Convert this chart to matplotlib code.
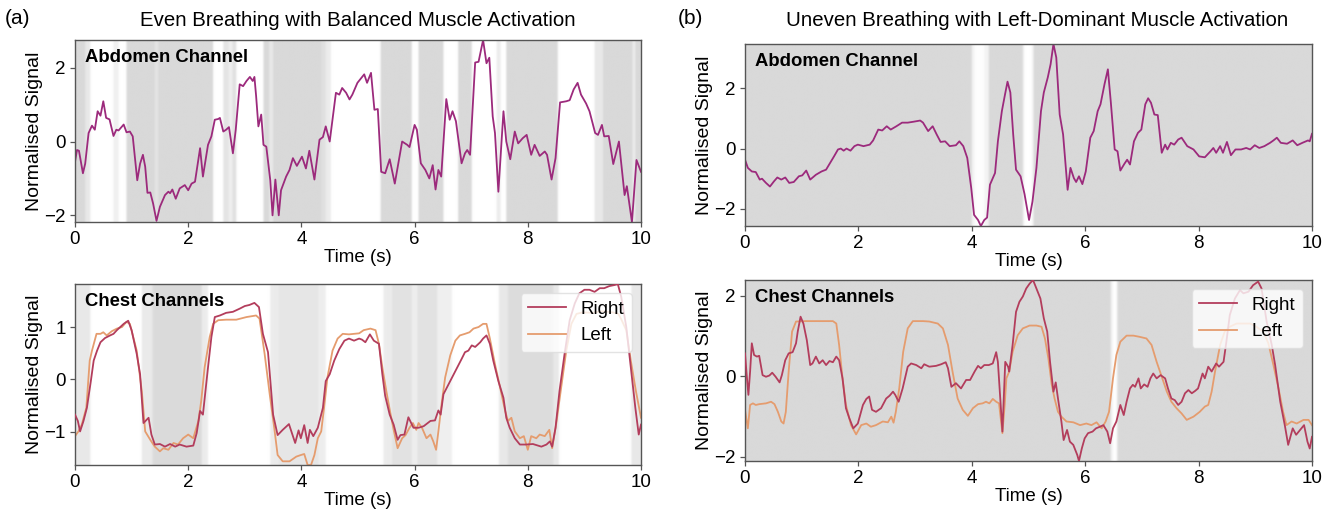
import numpy as np
import matplotlib
matplotlib.use("Agg")
import matplotlib.pyplot as plt
from matplotlib.colors import LinearSegmentedColormap

plt.rcParams['font.family'] = ['Liberation Sans', 'DejaVu Sans']

# ---------------- data ----------------
# (a) abdomen channel
t_abd_a = [0,0.035,0.07,0.14,0.18,0.24,0.30,0.35,0.40,0.45,
           0.50,0.55,0.61,0.68,0.73,0.77,0.86,0.91,0.97,1.02,
           1.10,1.15,1.20,1.24,1.28,1.33,1.38,1.44,1.50,1.59,
           1.65,1.68,1.72,1.78,1.85,1.94,2.0,2.06,2.12,2.21,
           2.26,2.35,2.41,2.47,2.53,2.56,2.62,2.67,2.72,2.79,
           2.84,2.91,2.97,3.03,3.09,3.14,3.17,3.2,3.24,3.29,
           3.33,3.38,3.45,3.49,3.54,3.6,3.64,3.73,3.79,3.85,
           3.92,4.01,4.08,4.14,4.23,4.32,4.38,4.43,4.5,4.55,
           4.61,4.67,4.72,4.79,4.85,4.9,4.99,
           5.11,5.16,5.23,5.29,5.35,5.41,5.48,5.56,5.65,5.78,
           5.87,5.91,6.0,6.04,6.11,6.19,6.26,6.32,6.37,6.42,
           6.47,6.56,6.62,6.67,6.73,6.83,6.89,6.93,6.98,7.07,
           7.13,7.21,7.27,7.32,7.38,7.42,7.48,7.57,7.62,7.69,
           7.77,7.83,7.91,7.98,8.06,8.12,8.21,8.30,8.34,8.42,
           8.49,8.57,8.68,8.74,8.81,8.88,8.94,9.03,9.09,9.19,
           9.24,9.31,9.35,9.43,9.51,9.61,9.71,9.75,9.84,9.92,
           10.0]
v_abd_a = [-0.55,-0.23,-0.25,-0.86,-0.6,0.23,0.43,0.32,0.82,0.7,
           1.09,0.64,0.6,0.15,0.32,0.3,0.46,0.25,0.27,0.14,
           -1.05,-0.6,-0.36,-0.68,-1.39,-1.38,-1.68,-2.15,-1.77,-1.45,
           -1.36,-1.4,-1.3,-1.55,-1.27,-1.18,-1.32,-1.14,-1.09,-0.18,
           -0.95,-0.09,0.14,0.59,0.61,0.64,0.27,0.32,0.39,-0.32,
           0.32,1.55,1.5,1.64,1.75,1.64,1.75,1.23,0.41,0.73,
           -0.09,-0.14,-1.05,-2.0,-1.03,-2.0,-1.32,-0.95,-0.77,-0.45,
           -0.66,-0.41,-0.73,-0.25,-1.03,0.05,0.12,0.41,0.0,0.59,
           1.32,1.27,1.45,1.32,1.14,1.27,1.59,
           1.82,1.59,1.86,0.86,0.88,-0.82,-0.86,-0.48,-1.14,0.0,
           -0.09,-0.15,0.45,0.32,-0.59,-0.77,-1.0,-0.64,-1.3,-0.77,
           -0.95,1.15,0.59,0.82,0.55,-0.59,-0.32,-0.23,-0.36,2.14,
           2.16,2.75,2.12,2.27,0.68,0.23,-1.36,0.82,0.0,-0.48,
           0.27,-0.05,0.09,0.18,-0.36,-0.09,-0.39,-0.27,-0.36,-1.03,
           -0.45,1.06,1.09,1.12,1.41,1.59,1.27,1.03,0.82,0.23,
           0.18,0.45,0.14,0.15,-0.61,0.0,-1.45,-1.21,-2.18,-0.5,
           -0.82]

# (a) chest channels
t_right_a = [0,0.05,0.09,0.15,0.21,0.28,0.33,0.39,0.45,0.53,
             0.62,0.68,0.74,0.80,0.86,0.94,1.0,1.09,1.15,1.21,
             1.30,1.35,1.41,1.50,1.59,1.68,1.77,1.85,1.97,2.09,
             2.15,2.21,2.26,2.35,2.41,2.47,2.56,2.67,2.79,2.91,
             3.0,3.08,3.17,3.25,3.32,3.41,3.50,3.58,3.67,3.78,
             3.85,3.89,3.95,3.99,4.05,4.11,4.15,4.21,4.29,4.38,
             4.43,4.5,4.58,4.67,4.76,4.84,4.93,5.02,
             5.07,5.13,5.21,5.28,5.37,5.43,5.48,5.56,5.63,5.70,
             5.75,5.82,5.89,5.98,6.07,6.16,6.28,6.36,6.42,6.46,
             6.51,6.63,6.74,6.83,6.89,6.95,7.01,7.07,7.16,7.21,
             7.27,7.33,7.39,7.48,7.57,7.62,7.68,7.77,7.86,7.97,
             8.09,8.24,8.33,8.39,8.43,8.49,8.56,8.65,8.74,8.83,
             8.91,9.0,9.09,9.18,9.27,9.35,9.44,9.53,9.59,9.65,
             9.74,9.82,9.9,9.96,10.0]
v_right_a = [-0.67,-0.79,-0.99,-0.79,-0.54,-0.03,0.36,0.55,0.71,0.79,
             0.84,0.87,0.94,1.0,1.06,1.12,0.94,0.49,0.1,-0.83,
             -0.73,-1.05,-1.24,-1.23,-1.28,-1.23,-1.28,-1.24,-1.28,-1.26,
             -1.02,-0.6,-0.67,0.23,0.81,1.19,1.22,1.27,1.29,1.35,
             1.4,1.42,1.46,1.38,0.87,0.52,-0.67,-1.06,-0.96,-0.85,
             -1.08,-1.21,-0.97,-1.12,-0.87,-1.21,-0.96,-1.08,-0.92,-0.54,
             -0.03,0.10,0.36,0.58,0.74,0.78,0.74,0.78,
             0.76,0.71,0.86,0.74,0.68,0.1,-0.31,-0.67,-0.86,-1.15,
             -1.06,-1.05,-0.72,-0.92,-0.92,-0.89,-0.79,-0.78,-0.59,-0.67,
             -0.28,-0.03,0.2,0.39,0.52,0.55,0.65,0.62,0.71,0.78,
             0.84,0.68,0.36,-0.03,-0.35,-0.73,-0.92,-1.12,-1.24,-1.24,
             -1.23,-1.28,-1.24,-1.18,-1.28,-0.92,-0.22,0.49,1.13,1.45,
             1.64,1.71,1.71,1.67,1.74,1.74,1.78,1.8,1.82,1.58,
             1.0,0.23,-0.54,-1.05,-0.86]
t_left_a = [0,0.06,0.12,0.2,0.26,0.30,0.38,0.45,0.50,0.56,
            0.65,0.74,0.83,0.91,0.97,1.09,1.18,1.24,1.33,1.41,
            1.50,1.56,1.65,1.74,1.82,1.91,2.0,2.09,2.18,2.23,
            2.29,2.38,2.44,2.53,2.67,2.85,3.03,3.20,3.26,3.35,
            3.44,3.52,3.58,3.67,3.79,3.91,3.99,4.05,4.11,4.17,
            4.23,4.29,4.35,4.40,4.46,4.55,4.64,4.73,4.84,5.02,
            5.10,5.22,5.31,5.37,5.43,5.50,5.57,5.63,5.70,5.78,
            5.84,5.91,5.97,6.03,6.07,6.13,6.21,6.28,6.33,6.38,
            6.42,6.48,6.54,6.63,6.72,6.80,6.89,6.97,7.04,7.13,
            7.21,7.27,7.33,7.42,7.51,7.60,7.65,7.71,7.77,7.86,
            7.93,8.0,8.06,8.15,8.21,8.30,8.38,8.43,8.50,8.59,
            8.68,8.77,8.86,8.97,9.15,9.3,9.5,9.6,9.65,9.74,
            9.82,9.91,10.0]
v_left_a = [-1.08,-0.99,-0.86,-0.54,0.36,0.55,0.87,0.87,0.9,0.84,
            0.92,0.97,1.0,1.1,1.06,0.55,-0.22,-0.99,-1.15,-1.28,
            -1.37,-1.31,-1.34,-1.21,-1.24,-1.12,-1.05,-1.12,-0.79,-0.41,
            0.23,0.81,1.06,1.13,1.14,1.14,1.19,1.22,1.16,0.49,
            -0.28,-0.92,-1.44,-1.56,-1.56,-1.47,-1.44,-1.42,-1.63,-1.63,
            -1.44,-1.12,-0.99,-0.54,0.04,0.55,0.78,0.87,0.86,0.88,
            0.94,0.97,0.94,0.68,0.23,-0.22,-0.63,-0.96,-1.31,-1.12,
            -1.06,-0.92,-0.83,-0.96,-0.83,-0.92,-1.12,-1.05,-1.18,-1.34,
            -0.99,-0.44,0.04,0.46,0.74,0.84,0.87,0.9,0.97,1.0,
            1.06,1.06,0.78,0.29,-0.15,-0.6,-0.79,-0.73,-0.99,-1.12,
            -1.08,-1.34,-1.08,-1.12,-1.05,-1.08,-0.96,-1.31,-0.86,-0.15,
            0.55,1.06,1.25,1.28,1.27,1.3,1.28,1.25,1.15,0.94,
            0.36,-0.22,-0.73]

# (b) abdomen channel
t_abd_b = [0,0.05,0.12,0.19,0.26,0.30,0.37,0.44,0.51,0.57,
           0.64,0.71,0.78,0.86,0.95,1.01,1.08,1.15,1.25,1.35,
           1.43,1.50,1.57,1.64,1.69,1.74,1.79,1.86,1.93,1.99,
           2.09,2.20,2.26,2.35,2.42,2.50,2.57,2.67,2.77,2.87,
           2.97,3.09,3.14,3.23,3.31,3.38,3.45,3.53,3.61,3.72,
           3.78,3.85,3.92,3.99,4.04,4.11,4.16,4.22,4.27,4.32,
           4.41,4.46,4.53,4.58,4.63,4.68,4.73,4.78,4.86,4.93,
           5.01,5.07,5.14,5.22,5.27,5.34,5.39,5.44,5.49,5.55,
           5.61,5.69,5.74,5.80,5.84,5.89,5.95,6.01,6.09,6.15,
           6.22,6.27,6.34,6.40,6.45,6.52,6.57,6.62,6.69,6.74,
           6.79,6.86,6.93,6.99,7.06,7.11,7.16,7.22,7.28,7.35,
           7.41,7.45,7.51,7.57,7.64,7.70,7.80,7.91,8.01,8.11,
           8.21,8.26,8.31,8.38,8.43,8.50,8.57,8.65,8.75,8.84,
           8.91,8.99,9.07,9.16,9.26,9.32,9.38,9.45,9.56,9.66,
           9.74,9.83,9.93,9.96,10.0]
v_abd_b = [-0.37,-0.64,-0.76,-0.78,-1.03,-1.0,-1.14,-1.26,-1.09,-0.96,
           -1.03,-0.96,-1.14,-1.11,-0.92,-0.89,-0.73,-1.03,-0.87,-0.76,
           -0.7,-0.48,-0.26,-0.03,0.0,-0.07,0.0,-0.07,0.08,0.13,
           0.08,0.13,0.27,0.63,0.6,0.74,0.63,0.74,0.86,0.86,
           0.89,0.93,0.86,0.58,0.74,0.47,0.22,0.24,0.08,0.11,
           0.24,0.08,-0.31,-1.31,-2.2,-2.37,-2.57,-2.37,-2.29,-1.2,
           -0.81,0.24,1.24,1.74,2.22,1.86,0.47,-0.7,-0.92,-1.51,
           -2.37,-1.76,-0.64,1.24,1.86,2.36,2.8,3.47,3.02,1.13,
           0.47,-1.37,-0.64,-0.98,-1.11,-0.92,-1.18,-0.76,0.36,0.58,
           1.24,1.47,2.13,2.63,1.58,-0.03,-0.09,-0.73,-0.51,-0.37,
           -0.53,0.24,0.52,0.63,1.47,1.67,1.52,1.13,1.11,-0.14,
           0.13,-0.03,0.19,0.13,0.3,0.36,0.08,-0.03,-0.26,-0.29,
           -0.09,0.02,-0.14,0.08,-0.14,0.22,-0.22,-0.03,-0.03,0.02,
           -0.03,0.11,0.02,0.08,0.19,0.27,0.36,0.19,0.16,0.27,
           0.11,0.19,0.27,0.24,0.49]

# (b) chest channels
t_right_b = [0,0.03,0.06,0.09,0.12,0.16,0.21,0.25,0.31,0.37,
             0.43,0.48,0.54,0.61,0.65,0.71,0.77,0.84,0.90,0.93,
             0.98,1.03,1.09,1.15,1.19,1.25,1.31,1.37,1.43,1.49,
             1.55,1.61,1.66,1.72,1.78,1.84,1.91,1.99,2.08,2.14,
             2.19,2.24,2.31,2.40,2.49,2.55,2.61,2.65,2.71,2.78,
             2.87,2.93,3.02,3.11,3.16,3.25,3.37,3.46,3.54,3.58,
             3.64,3.72,3.81,3.9,3.97,4.05,4.11,4.16,4.22,4.30,
             4.37,4.43,4.46,4.54,4.59,4.64,4.66,4.72,4.78,4.84,
             4.90,4.96,5.02,
             5.08,5.14,5.21,5.27,5.33,5.38,5.44,5.48,5.52,5.58,
             5.62,5.68,5.73,5.79,5.86,5.89,5.94,5.99,6.05,6.13,
             6.19,6.26,6.32,6.39,6.44,6.49,6.55,6.62,6.68,6.73,
             6.79,6.84,6.88,6.94,6.98,7.04,7.1,7.15,7.20,7.26,
             7.33,7.41,7.46,7.52,7.58,7.64,7.70,7.76,7.82,7.88,
             7.94,7.99,8.07,8.11,8.17,8.23,8.31,8.36,8.44,8.49,
             8.55,8.64,8.73,8.79,8.88,8.96,9.05,9.11,9.2,9.29,
             9.35,9.44,9.52,9.58,9.66,9.72,9.79,9.86,9.92,9.96,
             10.0]
v_right_b = [0.57,0.03,-0.46,0.12,0.82,0.53,0.49,0.51,0.03,-0.01,
             0.02,0.09,-0.01,-0.15,0.03,0.4,0.57,0.6,0.82,1.11,
             1.48,1.31,0.9,0.28,0.32,0.49,0.32,0.4,0.28,0.38,
             0.35,0.49,0.4,-0.05,-0.79,-1.04,-1.29,-1.17,-0.71,-0.56,
             -0.5,-0.83,-0.88,-0.79,-0.55,-0.48,-0.38,-0.46,-0.63,-0.3,
             0.24,0.32,0.28,0.2,0.3,0.24,0.26,0.3,0.35,0.2,
             -0.26,-0.17,-0.3,-0.09,-0.09,0.12,0.26,0.2,0.28,0.28,
             0.32,0.6,0.36,-1.37,0.36,0.24,0.12,0.78,1.6,1.85,
             1.98,2.18,2.3,
             2.39,2.18,1.93,1.44,1.11,0.36,-0.38,-0.15,-0.55,-1.12,
             -1.58,-1.33,-1.62,-1.7,-1.95,-2.1,-1.79,-1.54,-1.41,-1.37,
             -1.29,-1.25,-1.21,-1.37,-1.66,-1.29,-1.12,-0.71,-0.96,-0.63,
             -0.3,-0.21,-0.26,-0.05,-0.3,-0.2,-0.26,-0.05,0.07,-0.05,
             0.03,-0.05,-0.3,-0.55,-0.59,-0.71,-0.63,-0.42,-0.34,-0.42,
             -0.36,-0.3,0.07,-0.05,0.24,0.12,0.32,0.24,0.36,0.86,
             1.52,1.93,2.14,2.06,2.1,2.26,2.35,2.18,1.36,0.78,
             0.28,-0.63,-1.21,-1.7,-1.29,-1.45,-1.33,-1.21,-1.62,-1.79,
             -1.5]
t_left_b = [0,0.05,0.09,0.14,0.19,0.25,0.37,0.46,0.52,0.58,
            0.64,0.68,0.72,0.77,0.83,0.90,1.08,1.31,1.55,1.61,
            1.66,1.72,1.78,1.87,1.96,2.05,2.14,2.22,2.31,2.43,
            2.52,2.58,2.62,2.66,2.72,2.79,2.87,2.96,3.14,3.25,
            3.40,3.49,3.58,3.66,3.75,3.84,3.93,4.02,4.11,4.19,
            4.25,4.31,4.37,4.43,4.48,4.54,4.58,4.61,4.66,4.72,
            4.81,4.9,5.02,
            5.14,5.23,5.29,5.35,5.41,5.46,5.52,5.58,5.67,5.79,
            5.91,6.02,6.11,6.2,6.29,6.36,6.42,6.49,6.55,6.62,
            6.73,6.85,6.96,7.08,7.17,7.26,7.35,7.44,7.52,7.61,
            7.70,7.79,7.91,8.02,8.11,8.17,8.23,8.29,8.38,8.46,
            8.55,8.67,8.79,8.91,9.02,9.14,9.23,9.32,9.41,9.49,
            9.55,9.64,9.73,9.85,9.94,10.0]
v_left_b = [-0.83,-1.29,-0.71,-0.67,-0.71,-0.69,-0.67,-0.63,-0.69,-0.88,
            -1.12,-1.17,-0.88,0.12,1.11,1.36,1.37,1.37,1.37,1.31,
            0.78,-0.05,-0.71,-1.21,-1.44,-1.21,-1.17,-1.25,-1.21,-1.12,
            -1.14,-1.0,-1.15,-0.88,-0.3,0.61,1.19,1.37,1.37,1.36,
            1.31,1.19,0.78,0.12,-0.55,-0.83,-0.98,-0.79,-0.69,-0.67,
            -0.63,-0.67,-0.56,-0.63,-0.67,-1.41,-0.71,-0.05,0.12,0.61,
            1.02,1.19,1.26,
            1.26,1.23,0.94,0.45,-0.21,-0.55,-0.88,-1.0,-1.12,-1.14,
            -1.21,-1.17,-1.21,-1.14,-1.29,-1.12,-0.88,-0.05,0.53,0.86,
            1.01,1.01,0.98,0.94,0.78,0.36,-0.01,-0.38,-0.63,-0.79,
            -0.92,-1.08,-1.0,-0.88,-0.75,-0.71,-0.38,0.12,0.78,1.11,
            1.23,1.31,1.31,1.31,1.23,1.11,0.82,0.28,-0.3,-0.88,
            -1.21,-1.12,-1.17,-1.08,-1.08,-1.21]

# muscle-activation shading: (start s, end s, level 0=none .. 1=full)
shade_abd_a = [(0, 0.18, 1), (0.18, 0.27, 0.6), (0.68, 0.77, 0.4), (0.91, 1.41, 1),
               (1.41, 1.47, 0.7), (1.47, 2.44, 1), (2.62, 2.72, 0.7), (2.72, 2.78, 0.4),
               (2.78, 2.85, 0.8), (3.33, 3.43, 1), (3.43, 3.5, 0.6), (3.5, 4.35, 1),
               (4.35, 4.43, 0.8), (4.43, 4.52, 0.5), (5.4, 5.95, 1), (6.07, 6.51, 1),
               (6.77, 7.01, 1), (7.45, 7.52, 0.5), (7.62, 8.53, 1), (9.18, 9.33, 0.6),
               (9.33, 9.85, 1), (9.85, 9.9, 0.5), (9.9, 10, 1)]
shade_chest_a = [(0, 0.27, 0.6), (1.18, 1.37, 0.55), (1.37, 2.24, 0.95), (2.24, 2.35, 0.5),
                 (3.45, 3.6, 0.5), (3.6, 4.3, 0.65), (4.3, 4.43, 0.45),
                 (5.45, 5.6, 0.5), (5.6, 5.95, 0.75), (5.95, 6.05, 0.45), (6.05, 6.4, 0.75),
                 (6.4, 6.66, 0.4), (7.49, 7.65, 0.6), (7.65, 8.45, 0.9), (8.45, 8.55, 0.6),
                 (9.83, 10, 0.6)]
shade_abd_b = [(0, 4.0, 1), (4.0, 4.05, 0.3), (4.05, 4.22, 0.05), (4.22, 4.3, 0.3),
               (4.3, 4.9, 1), (4.9, 4.93, 0.3), (4.93, 5.06, 0), (5.06, 5.09, 0.3),
               (5.09, 10, 1)]
shade_chest_b = [(0, 6.45, 1), (6.45, 6.49, 0.3), (6.49, 6.55, 0), (6.55, 6.57, 0.3),
                 (6.57, 10, 1)]

titles = ["Even Breathing with Balanced Muscle Activation",
          "Uneven Breathing with Left-Dominant Muscle Activation"]
panel_tags = ["(a)", "(b)"]

# ---------------- style ----------------
C_ABD = "#9c2a7c"
C_RIGHT = "#b33d5c"
C_LEFT = "#e59c6e"
shade_cmap = LinearSegmentedColormap.from_list("shade", ["#ffffff", "#d9d9d9"])

W, H = 1344, 512
fig = plt.figure(figsize=(W / 100, H / 100), dpi=100)

def px_axes(x0, y0, x1, y1):
    return fig.add_axes([x0 / W, 1 - y1 / H, (x1 - x0) / W, (y1 - y0) / H])

def shading_row(segments, n=2000, soften=0.015):
    grid = np.linspace(0, 10, n, endpoint=False) + 5.0 / n
    row = np.zeros(n)
    for a, b, lev in segments:
        row[(grid >= a) & (grid < b)] = lev
    # soften the edges slightly (visual blur of the activation map)
    sig = soften / (10.0 / n)
    k = np.arange(-int(4 * sig), int(4 * sig) + 1)
    ker = np.exp(-0.5 * (k / sig) ** 2)
    ker /= ker.sum()
    pad = len(k) // 2
    row = np.convolve(np.pad(row, pad, mode="edge"), ker, mode="valid")
    return row[np.newaxis, :]

def style(ax, yticks, label):
    for s in ax.spines.values():
        s.set_color("#555555")
        s.set_linewidth(1.0)
    ax.tick_params(axis="both", labelsize=13.5, color="#555555", length=3.5, width=0.9,
                   pad=3)
    ax.set_xlim(0, 10)
    ax.set_xticks([0, 2, 4, 6, 8, 10])
    ax.set_yticks(yticks)
    ax.set_xlabel("Time (s)", fontsize=13.5, labelpad=1)
    ax.set_ylabel("Normalised Signal", fontsize=14, labelpad=1)
    ax.text(0.017, 0.905, label, transform=ax.transAxes, fontsize=13.3,
            fontweight="bold", ha="left", va="center", zorder=5)

def draw_shading(ax, segments, ylo, yhi):
    ax.imshow(shading_row(segments), extent=[0, 10, ylo, yhi], aspect="auto",
              cmap=shade_cmap, vmin=0, vmax=1, interpolation="bilinear", zorder=0)
    ax.set_ylim(ylo, yhi)

panels = [
    dict(box=(75, 40, 641, 222), kind="abd", t=t_abd_a, v=v_abd_a, shade=shade_abd_a, yt=[-2, 0, 2]),
    dict(box=(75, 284, 641, 465), kind="chest", tr=t_right_a, vr=v_right_a, tl=t_left_a, vl=v_left_a,
         shade=shade_chest_a, yt=[-1, 0, 1]),
    dict(box=(745, 44, 1312, 226), kind="abd", t=t_abd_b, v=v_abd_b, shade=shade_abd_b, yt=[-2, 0, 2]),
    dict(box=(745, 280, 1312, 461), kind="chest", tr=t_right_b, vr=v_right_b, tl=t_left_b, vl=v_left_b,
         shade=shade_chest_b, yt=[-2, 0, 2]),
]

for p in panels:
    ax = px_axes(*p["box"])
    if p["kind"] == "abd":
        ax.plot(p["t"], p["v"], color=C_ABD, lw=1.3, zorder=2)
        ylo, yhi = min(p["v"]), max(p["v"])
        style(ax, p["yt"], "Abdomen Channel")
    else:
        ax.plot(p["tr"], p["vr"], color=C_RIGHT, lw=1.3, zorder=3, label="Right")
        ax.plot(p["tl"], p["vl"], color=C_LEFT, lw=1.3, zorder=2, label="Left")
        ylo = min(min(p["vr"]), min(p["vl"]))
        yhi = max(max(p["vr"]), max(p["vl"]))
        style(ax, p["yt"], "Chest Channels")
        leg = ax.legend(loc="upper right", fontsize=13.5, framealpha=0.8, fancybox=True,
                        edgecolor="#dddddd")
        leg.set_zorder(6)
    draw_shading(ax, p["shade"], ylo, yhi)

fig.text(358 / W, 1 - 20 / H, titles[0], fontsize=14.7, ha="center", va="center")
fig.text(1037 / W, 1 - 20 / H, titles[1], fontsize=14.7, ha="center", va="center")
fig.text(5 / W, 1 - 18 / H, panel_tags[0], fontsize=15, ha="left", va="center")
fig.text(678 / W, 1 - 18 / H, panel_tags[1], fontsize=15, ha="left", va="center")

fig.savefig("out.png", dpi=100)
